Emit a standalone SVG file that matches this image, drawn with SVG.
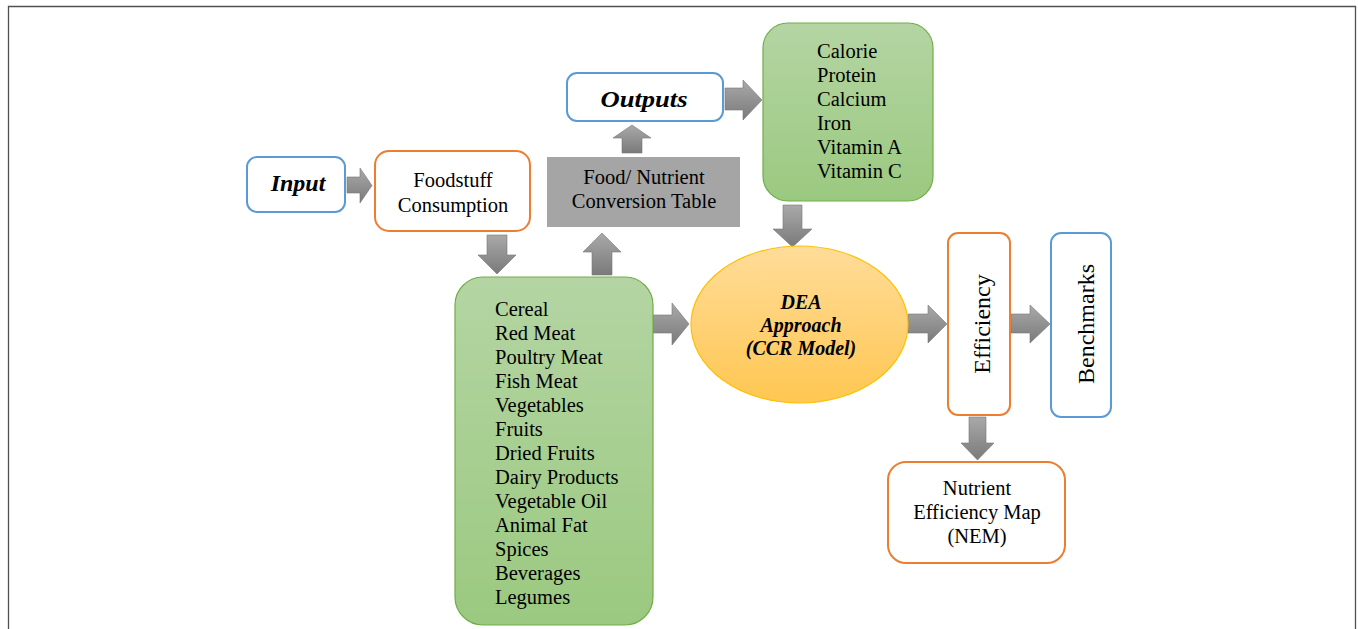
<svg xmlns="http://www.w3.org/2000/svg" width="1358" height="629" viewBox="0 0 1358 629">
<defs>
<linearGradient id="gGreen" x1="0" y1="0" x2="0" y2="1"><stop offset="0" stop-color="#B4D5A3"/><stop offset="1" stop-color="#9BC980"/></linearGradient>
<linearGradient id="gGold" x1="0" y1="0" x2="0" y2="1"><stop offset="0" stop-color="#FFDC99"/><stop offset="1" stop-color="#FFC752"/></linearGradient>
<linearGradient id="gArrow" x1="0" y1="0" x2="0" y2="1"><stop offset="0" stop-color="#A9A9A9"/><stop offset="1" stop-color="#7A7A7A"/></linearGradient>
<style>
.t{font-family:"Liberation Serif","Times New Roman",serif;font-size:20.5px;fill:#000}
.bi{font-family:"Liberation Serif","Times New Roman",serif;font-weight:bold;font-style:italic;fill:#000}
.c{text-anchor:middle}
.blue{fill:#fff;stroke:#5B9BD5;stroke-width:2}
.orange{fill:#fff;stroke:#ED7D31;stroke-width:2}
.green{fill:url(#gGreen);stroke:#70AD47;stroke-width:1.2}
.arrow{fill:url(#gArrow);stroke:#777;stroke-width:0.6}
</style>
</defs>
<rect width="1358" height="629" fill="#fff"/>
<path d="M8.5,629 V6.5 H1355.5 V629" fill="none" stroke="#505050" stroke-width="1.3"/>

<g id="connectors">
<path class="arrow" d="M347,177 H360 V168 L372,185.5 L360,203 V193 H347 Z"/>
<path class="arrow" d="M487,235 H507 V255 H516 L497,274 L478,255 H487 Z"/>
<path class="arrow" d="M592,275 V252 H583 L602,233 L621,252 H612 V275 Z"/>
<path class="arrow" d="M622,153 V138 H613 L632,125 L651,138 H642 V153 Z"/>
<path class="arrow" d="M725,88 H743 V80 L762,100 L743,120 V110 H725 Z"/>
<path class="arrow" d="M783,205 H802 V229 H812 L792.5,247 L773,229 H783 Z"/>
<path class="arrow" d="M653,315 H672 V303 L689,324 L672,345 V333 H653 Z"/>
<path class="arrow" d="M908,314 H928 V305 L947,324 L928,343 V333 H908 Z"/>
<path class="arrow" d="M1011,314 H1030 V305 L1050,324 L1030,343 V333 H1011 Z"/>
<path class="arrow" d="M969,417 H986 V443 H994 L977.5,460 L961,443 H969 Z"/>
</g>

<g id="input">
<rect class="blue" x="247" y="157" width="98" height="55" rx="10"/>
<text class="bi c" x="298" y="191" font-size="24">Input</text>
</g>

<g id="foodstuff">
<rect class="orange" x="375" y="151" width="155" height="80" rx="14"/>
<text class="t c" x="453" y="187">Foodstuff</text>
<text class="t c" x="453" y="212">Consumption</text>
</g>

<g id="conversion-table">
<rect x="547" y="157" width="193" height="70" fill="#A5A5A5"/>
<text class="t c" x="644" y="184">Food/ Nutrient</text>
<text class="t c" x="644" y="208">Conversion Table</text>
</g>

<g id="outputs">
<rect class="blue" x="567" y="73" width="156" height="48" rx="10"/>
<text class="bi c" x="644" y="107" font-size="24" textLength="87" lengthAdjust="spacingAndGlyphs">Outputs</text>
</g>

<g id="nutrients">
<rect class="green" x="763" y="23" width="170" height="178" rx="25"/>
<text class="t" x="817" y="58">Calorie</text>
<text class="t" x="817" y="82">Protein</text>
<text class="t" x="817" y="106">Calcium</text>
<text class="t" x="817" y="130">Iron</text>
<text class="t" x="817" y="154">Vitamin A</text>
<text class="t" x="817" y="178">Vitamin C</text>
</g>

<g id="food-groups">
<rect class="green" x="455" y="277" width="198" height="348" rx="28"/>
<text class="t" x="495" y="316">Cereal</text>
<text class="t" x="495" y="340">Red Meat</text>
<text class="t" x="495" y="364">Poultry Meat</text>
<text class="t" x="495" y="388">Fish Meat</text>
<text class="t" x="495" y="412">Vegetables</text>
<text class="t" x="495" y="436">Fruits</text>
<text class="t" x="495" y="460">Dried Fruits</text>
<text class="t" x="495" y="484">Dairy Products</text>
<text class="t" x="495" y="508">Vegetable Oil</text>
<text class="t" x="495" y="532">Animal Fat</text>
<text class="t" x="495" y="556">Spices</text>
<text class="t" x="495" y="580">Beverages</text>
<text class="t" x="495" y="604">Legumes</text>
</g>

<g id="dea">
<ellipse cx="799.5" cy="324.5" rx="108.5" ry="78.5" fill="url(#gGold)" stroke="#FFC000" stroke-width="1.2"/>
<text class="bi c" x="801" y="309" font-size="20">DEA</text>
<text class="bi c" x="801" y="332" font-size="20">Approach</text>
<text class="bi c" x="801" y="355" font-size="20">(CCR Model)</text>
</g>

<g id="efficiency">
<rect class="orange" x="948" y="233" width="62" height="182" rx="10"/>
<text class="t c" transform="translate(990,324) rotate(-90)" font-size="24" style="font-size:24px">Efficiency</text>
</g>

<g id="benchmarks">
<rect class="blue" x="1051" y="233" width="60" height="184" rx="10"/>
<text class="t c" transform="translate(1094,324) rotate(-90)" style="font-size:24px">Benchmarks</text>
</g>

<g id="nem">
<rect class="orange" x="888" y="462" width="177" height="101" rx="18"/>
<text class="t c" x="977" y="495">Nutrient</text>
<text class="t c" x="977" y="519">Efficiency Map</text>
<text class="t c" x="977" y="543">(NEM)</text>
</g>
</svg>
